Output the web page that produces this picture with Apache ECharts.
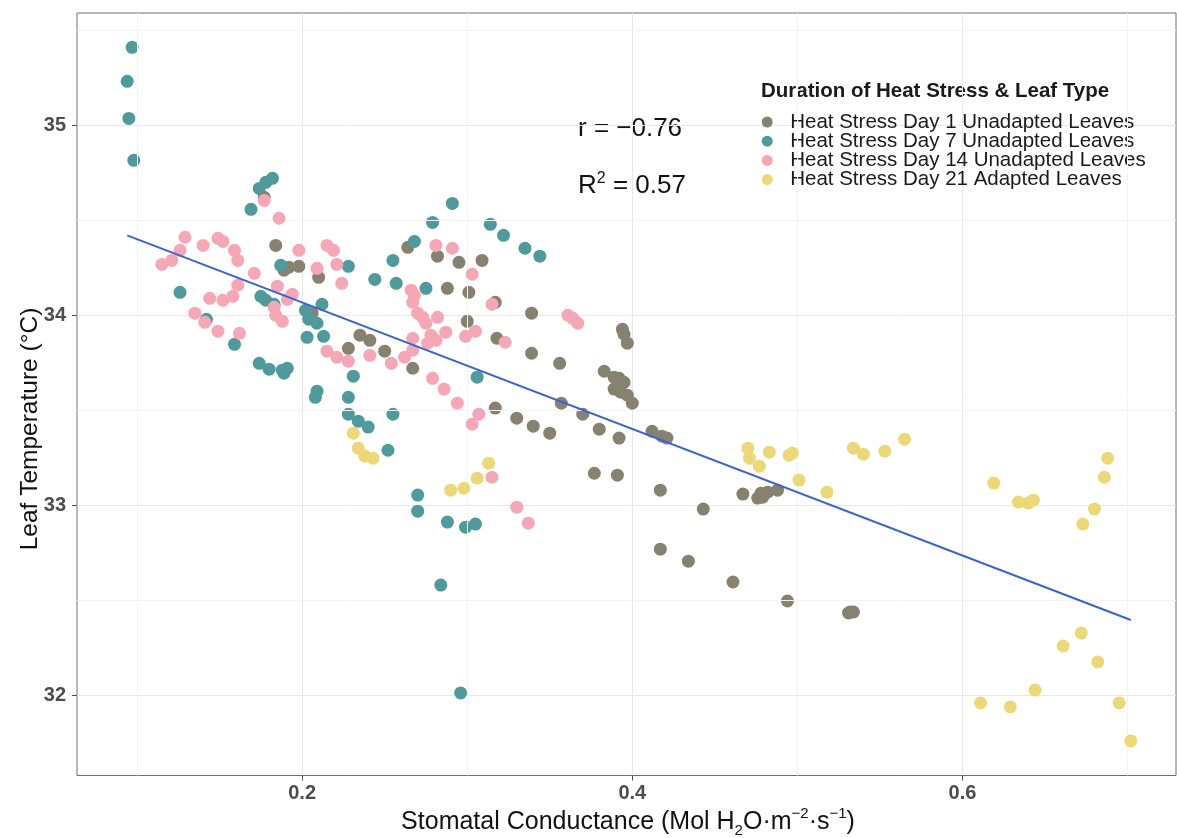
<!DOCTYPE html>
<html>
<head>
<meta charset="utf-8">
<script src="https://cdn.jsdelivr.net/npm/echarts@6/dist/echarts.min.js"></script>
<style>
html,body{margin:0;padding:0;background:#fff;}
#chart{width:1177px;height:838px;}
</style>
</head>
<body>
<div id="chart"></div>
<script>
// ---- data ----
const seriesNames = [
  'Heat Stress Day 1 Unadapted Leaves',
  'Heat Stress Day 7 Unadapted Leaves',
  'Heat Stress Day 14 Unadapted Leaves',
  'Heat Stress Day 21 Adapted Leaves'
];
const day1 = [[0.177,34.621],[0.184,34.368],[0.189,34.237],[0.192,34.253],[0.198,34.258],[0.210,34.200],[0.264,34.358],[0.282,34.311],[0.295,34.279],[0.309,34.289],[0.288,34.142],[0.301,34.121],[0.300,33.968],[0.235,33.895],[0.241,33.868],[0.228,33.826],[0.250,33.811],[0.267,33.721],[0.317,34.068],[0.339,34.011],[0.318,33.879],[0.339,33.800],[0.356,33.747],[0.383,33.705],[0.389,33.674],[0.392,33.668],[0.395,33.647],[0.394,33.926],[0.395,33.900],[0.397,33.853],[0.389,33.611],[0.393,33.595],[0.397,33.579],[0.400,33.537],[0.317,33.511],[0.330,33.458],[0.340,33.416],[0.350,33.379],[0.357,33.537],[0.370,33.479],[0.380,33.400],[0.392,33.353],[0.412,33.389],[0.418,33.363],[0.421,33.353],[0.377,33.168],[0.391,33.158],[0.417,33.079],[0.443,32.979],[0.417,32.768],[0.434,32.705],[0.461,32.595],[0.494,32.495],[0.467,33.058],[0.476,33.037],[0.479,33.042],[0.478,33.063],[0.482,33.068],[0.488,33.079],[0.531,32.432],[0.532,32.437],[0.534,32.437],[0.206,34.011]];
const day7 = [[0.094,35.232],[0.097,35.411],[0.095,35.037],[0.098,34.816],[0.169,34.558],[0.174,34.668],[0.178,34.700],[0.182,34.721],[0.126,34.121],[0.175,34.100],[0.178,34.079],[0.183,34.058],[0.142,33.979],[0.159,33.847],[0.174,33.747],[0.180,33.716],[0.188,33.711],[0.189,33.695],[0.191,33.721],[0.187,34.263],[0.228,34.258],[0.244,34.189],[0.255,34.289],[0.257,34.168],[0.268,34.389],[0.279,34.489],[0.291,34.589],[0.275,34.142],[0.212,34.058],[0.202,34.026],[0.204,33.979],[0.209,33.958],[0.203,33.884],[0.213,33.889],[0.231,33.679],[0.228,33.568],[0.228,33.479],[0.234,33.442],[0.240,33.411],[0.255,33.479],[0.252,33.289],[0.270,33.053],[0.270,32.968],[0.288,32.911],[0.299,32.884],[0.305,32.900],[0.284,32.579],[0.296,32.011],[0.208,33.568],[0.209,33.600],[0.306,33.674],[0.314,34.479],[0.322,34.421],[0.335,34.353],[0.344,34.311]];
const day14 = [[0.177,34.605],[0.186,34.511],[0.129,34.411],[0.126,34.342],[0.121,34.289],[0.115,34.268],[0.140,34.368],[0.149,34.405],[0.152,34.389],[0.159,34.342],[0.161,34.289],[0.171,34.221],[0.198,34.342],[0.209,34.247],[0.215,34.368],[0.219,34.342],[0.221,34.268],[0.224,34.168],[0.281,34.368],[0.291,34.353],[0.161,34.158],[0.144,34.089],[0.152,34.079],[0.158,34.100],[0.135,34.011],[0.141,33.963],[0.149,33.916],[0.162,33.905],[0.185,34.153],[0.194,34.111],[0.191,34.084],[0.183,34.042],[0.184,34.000],[0.188,33.968],[0.215,33.811],[0.221,33.779],[0.228,33.758],[0.241,33.789],[0.254,33.747],[0.262,33.779],[0.267,33.816],[0.267,33.879],[0.279,33.668],[0.286,33.611],[0.294,33.537],[0.303,33.426],[0.307,33.479],[0.266,34.132],[0.268,34.105],[0.267,34.068],[0.270,34.011],[0.273,33.989],[0.275,33.958],[0.282,33.989],[0.287,33.911],[0.278,33.895],[0.281,33.868],[0.276,33.853],[0.299,33.889],[0.305,33.916],[0.303,34.216],[0.315,34.058],[0.323,33.858],[0.361,34.000],[0.364,33.984],[0.367,33.958],[0.315,33.147],[0.330,32.989],[0.337,32.905]];
const day21 = [[0.231,33.379],[0.234,33.300],[0.238,33.258],[0.243,33.247],[0.290,33.079],[0.298,33.089],[0.306,33.142],[0.313,33.221],[0.470,33.300],[0.471,33.247],[0.477,33.205],[0.483,33.279],[0.495,33.263],[0.497,33.274],[0.501,33.132],[0.518,33.068],[0.534,33.300],[0.540,33.268],[0.553,33.284],[0.565,33.347],[0.619,33.116],[0.634,33.016],[0.640,33.011],[0.643,33.026],[0.673,32.900],[0.680,32.979],[0.686,33.147],[0.688,33.247],[0.672,32.326],[0.661,32.258],[0.682,32.174],[0.644,32.026],[0.611,31.958],[0.629,31.937],[0.695,31.958],[0.702,31.758]];
const fitLine = [[0.094,34.421],[0.702,32.395]];
const xTicks = [0.2, 0.4, 0.6];
const yTicks = [32, 33, 34, 35];
const xMinor = [0.1, 0.3, 0.5, 0.7];
const yMinor = [32.5, 33.5, 34.5, 35.5];
const xRange = [0.0636, 0.7294];
const yRange = [31.576, 35.592];
const corrText = 'r = \u22120.76';
const r2Value = '0.57';

const colors = ['#878270', '#4f9a9b', '#f6a7b6', '#ecd877'];
const FONT = '"Liberation Sans", Arial, sans-serif';

const chart = echarts.init(document.getElementById('chart'), null, {renderer: 'canvas'});

const scatterSeries = [day1, day7, day14, day21].map((d, i) => ({
  name: seriesNames[i],
  type: 'scatter',
  data: d,
  symbol: 'circle',
  symbolSize: 13,
  itemStyle: {color: colors[i], opacity: 1},
  z: 3 + i,
  emphasis: {disabled: true},
  animation: false
}));

const option = {
  animation: false,
  backgroundColor: '#ffffff',
  grid: {left: 77, top: 13, right: 1, bottom: 62.5, containLabel: false,
         show: true, borderColor: '#6f6f6f', borderWidth: 1},
  xAxis: {
    type: 'value', min: xRange[0], max: xRange[1],
    axisLine: {show: false},
    axisTick: {show: true, length: 5, lineStyle: {color: '#4d4d4d'}, customValues: xTicks},
    axisLabel: {customValues: xTicks, margin: 8, color: '#4d4d4d', fontWeight: 'bold', fontSize: 20, fontFamily: FONT,
                formatter: v => v.toFixed(1)},
    splitLine: {show: true, lineStyle: {color: '#e8e8e8', width: 1}}
  },
  yAxis: {
    type: 'value', min: yRange[0], max: yRange[1],
    axisLine: {show: false},
    axisTick: {show: true, length: 5, lineStyle: {color: '#4d4d4d'}, customValues: yTicks},
    axisLabel: {customValues: yTicks, margin: 11, color: '#4d4d4d', fontWeight: 'bold', fontSize: 20, fontFamily: FONT,
                formatter: v => String(Math.round(v))},
    splitLine: {show: true, lineStyle: {color: '#e8e8e8', width: 1}}
  },
  legend: {
    orient: 'vertical',
    left: 756.7, top: 106.5,
    icon: 'circle',
    itemWidth: 30, itemHeight: 11,
    itemGap: -1.8,
    data: seriesNames,
    textStyle: {fontSize: 20.5, fontFamily: FONT, color: '#1a1a1a', lineHeight: 19.3, padding: [0,0,0,3]},
    selectedMode: false
  },
  graphic: [
    {type: 'text', left: 761, top: 80.5, silent: true,
     style: {text: 'Duration of Heat Stress & Leaf Type', fontSize: 20.5, fontWeight: 'bold', fontFamily: FONT, fill: '#1a1a1a'}},
    {type: 'text', left: 578, top: 116, silent: true,
     style: {text: corrText, fontSize: 26, fontFamily: FONT, fill: '#111'}},
    {type: 'text', left: 578, top: 171, silent: true,
     style: {text: '{a|R}{s|2}{a| = ' + r2Value + '}', fontFamily: FONT, fill: '#111',
             rich: {a: {fontSize: 26, fontFamily: FONT, color: '#111', lineHeight: 30},
                    s: {fontSize: 16, fontFamily: FONT, color: '#111', verticalAlign: 'top', lineHeight: 16}}}},
    {type: 'text', x: 628, y: 822, silent: true,
     style: {text: '{n|Stomatal Conductance (Mol H}{b|2}{n|O\u00b7m}{t|\u22122}{n|\u00b7s}{t|\u22121}{n|)}',
             align: 'center', verticalAlign: 'middle', fontFamily: FONT, fill: '#111',
             rich: {n: {fontSize: 25, fontFamily: FONT, color: '#111', lineHeight: 32},
                    b: {fontSize: 15, fontFamily: FONT, color: '#111', verticalAlign: 'bottom', lineHeight: 15},
                    t: {fontSize: 15, fontFamily: FONT, color: '#111', verticalAlign: 'top', lineHeight: 15}}}},
    {type: 'text', x: 30, y: 429, rotation: Math.PI / 2, silent: true,
     style: {text: 'Leaf Temperature (\u00b0C)', align: 'center', verticalAlign: 'middle',
             fontSize: 24.5, fontFamily: FONT, fill: '#111'}}
  ],
  series: [
    {
      type: 'line', data: [], silent: true, z: 1,
      markLine: {
        silent: true, symbol: ['none', 'none'], label: {show: false},
        lineStyle: {color: '#f3f3f3', width: 1, type: 'solid'},
        emphasis: {disabled: true},
        data: xMinor.map(v => ({xAxis: v})).concat(yMinor.map(v => ({yAxis: v})))
      }
    },
    ...scatterSeries,
    {
      type: 'line', data: fitLine, symbol: 'none', z: 10, silent: true,
      lineStyle: {color: '#3a62d6', width: 2}
    }
  ]
};
chart.setOption(option);
</script>
</body>
</html>
